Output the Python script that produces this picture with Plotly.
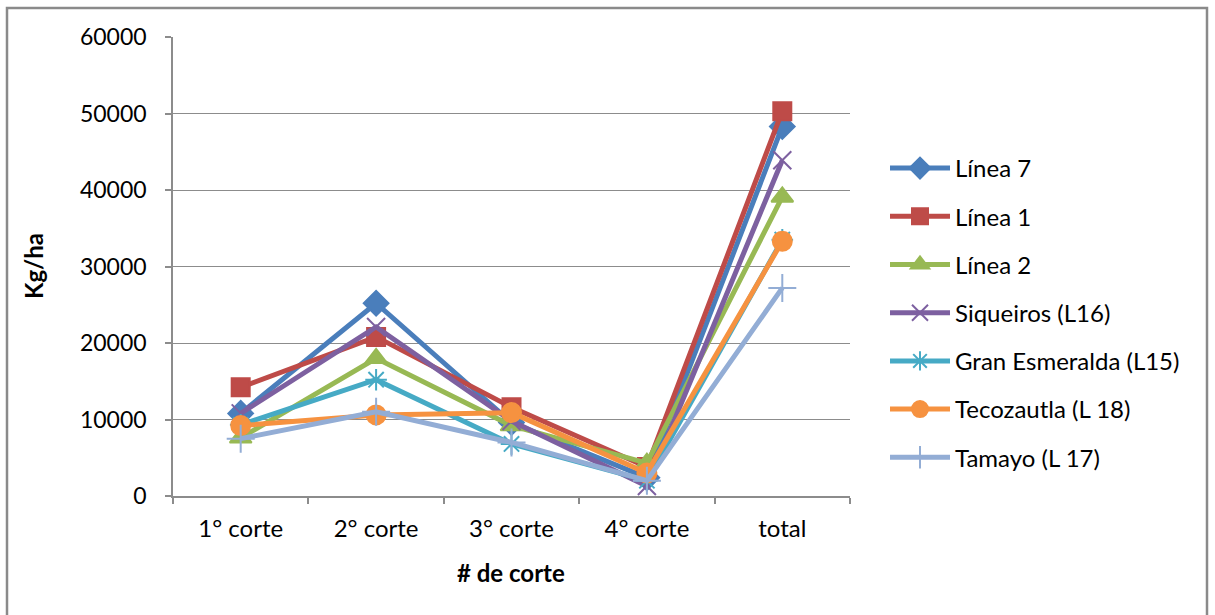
import plotly.graph_objects as go

# Categories and yields (kg/ha) per cut
categories = ["1° corte", "2° corte", "3° corte", "4° corte", "total"]

linea_7 = [10800, 25200, 9600, 2400, 48300]
linea_1 = [14200, 20800, 11600, 3800, 50300]
linea_2 = [7600, 18000, 9200, 4300, 39100]
siqueiros = [10800, 22100, 9800, 1300, 43900]
gran_esmeralda = [9300, 15200, 6800, 2000, 33500]
tecozautla = [9200, 10600, 10900, 3000, 33300]
tamayo = [7500, 11000, 7000, 2000, 27200]

series_names = ["Línea 7", "Línea 1", "Línea 2", "Siqueiros (L16)",
                "Gran Esmeralda (L15)", "Tecozautla (L 18)", "Tamayo (L 17)"]
series_values = [linea_7, linea_1, linea_2, siqueiros,
                 gran_esmeralda, tecozautla, tamayo]

colors = ["#4A7EBB", "#BE4B48", "#98B954", "#7D60A0",
          "#46AAC5", "#F69240", "#93ADD5"]
symbols = ["diamond", "square", "triangle-up", "x-thin-open",
           "asterisk-open", "circle", "cross-thin-open"]
sizes = [19, 18, 19, 18, 18, 19, 20]

FONT = "Lato"
FS = 24

fig = go.Figure()
for i, (name, vals) in enumerate(zip(series_names, series_values)):
    fig.add_trace(go.Scatter(
        x=categories, y=vals, name=name, mode="lines+markers",
        legendgroup=name,
        line=dict(color=colors[i], width=5),
        marker=dict(symbol=symbols[i], size=sizes[i], color=colors[i],
                    line=dict(color=colors[i], width=2)),
    ))

L, R, T, B = 173, 365, 37, 119
W, H = 1215, 615
pw, ph = W - L - R, H - T - B

def px_x(p):
    return (p - L) / pw

def px_y(p):
    return (H - B - p) / ph

fig.update_layout(
    width=W, height=H,
    margin=dict(l=L, r=R, t=T, b=B),
    paper_bgcolor="white", plot_bgcolor="white",
    font=dict(family=FONT, size=FS, color="#000000"),
    showlegend=True,
    legend=dict(
        x=px_x(885), y=px_y(146), xanchor="left", yanchor="top",
        font=dict(family=FONT, size=FS),
        tracegroupgap=14, itemwidth=60, traceorder="grouped",
        bgcolor="rgba(0,0,0,0)",
    ),
    xaxis=dict(
        type="category", tickson="boundaries", range=[-0.5, 4.5],
        showline=True, linecolor="#8C8C8C", linewidth=1.5,
        ticks="outside", ticklen=6, tickcolor="#8C8C8C", tickwidth=1.5,
        showgrid=False, zeroline=False,
        tickfont=dict(family=FONT, size=FS),
        ticklabelstandoff=10,
    ),
    yaxis=dict(
        range=[0, 60000], dtick=10000,
        showline=True, linecolor="#8C8C8C", linewidth=1.5,
        ticks="outside", ticklen=6, tickcolor="#8C8C8C", tickwidth=1.5,
        showgrid=True, gridcolor="#8C8C8C", gridwidth=1.2,
        zeroline=False, tickformat="d",
        tickfont=dict(family=FONT, size=23),
        ticklabelstandoff=14,
    ),
    annotations=[
        dict(text="<b>Kg/ha</b>", xref="paper", yref="paper",
             x=px_x(33), y=px_y(266), xanchor="center", yanchor="middle",
             textangle=-90, showarrow=False,
             font=dict(family=FONT, size=FS)),
        dict(text="<b># de corte</b>", xref="paper", yref="paper",
             x=px_x(511), y=px_y(572), xanchor="center", yanchor="middle",
             showarrow=False, font=dict(family=FONT, size=FS)),
    ],
    shapes=[
        dict(type="rect", xref="paper", yref="paper",
             x0=px_x(7), x1=px_x(1207), y0=px_y(640), y1=px_y(8),
             line=dict(color="#8A8A8A", width=2.5), layer="below"),
    ],
)

fig.write_html("out.html")
